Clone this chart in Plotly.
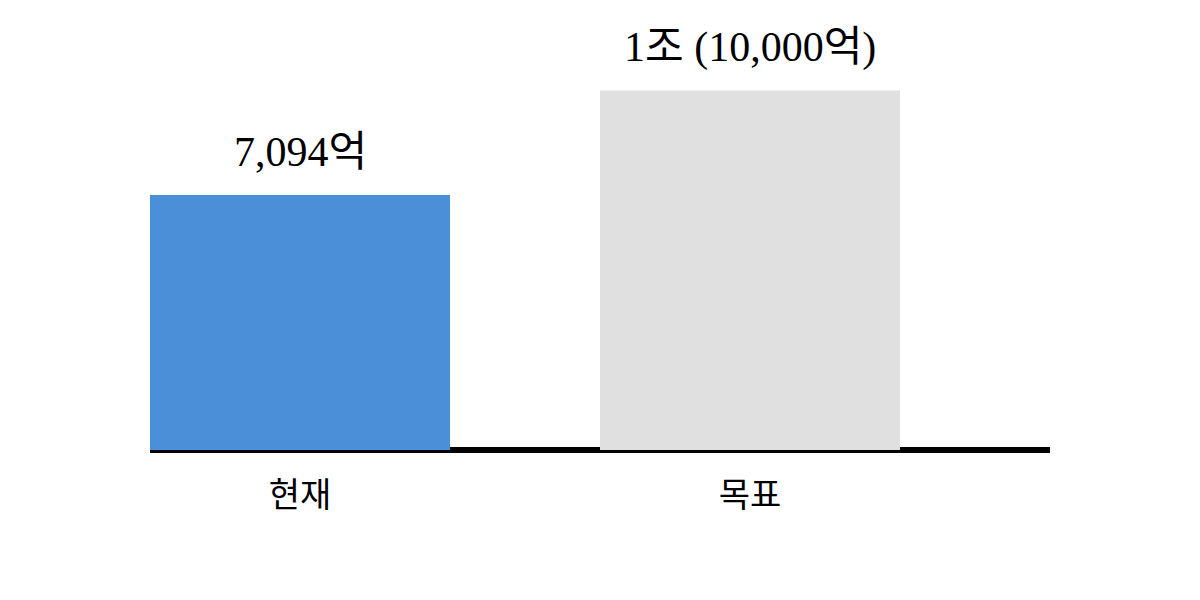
import plotly.graph_objs as go

categories = ['현재', '목표']
values = [7094, 10000]
labels = ['7,094억', '1조 (10,000억)']
colors = ['#4A90D9', '#E0E0E0']

fig = go.Figure()

fig.add_trace(go.Bar(x=[0, 1], y=values, marker=dict(color=colors, line=dict(width=0)),
                     hoverinfo='skip'))

for i, (val, lab) in enumerate(zip(values, labels)):
    fig.add_annotation(x=i, y=val, text=lab, showarrow=False, yanchor='middle', yshift=43,
                       font=dict(family='Liberation Serif, Noto Sans CJK KR', size=42, color='black'))

fig.update_layout(
    width=1200, height=600,
    margin=dict(l=142, r=158, t=42, b=158),
    paper_bgcolor='white', plot_bgcolor='white',
    bargap=1/3,
    showlegend=False,
    xaxis=dict(range=[-1/3, 5/3], showgrid=False, showline=False, zeroline=False, ticks='',
               tickmode='array', tickvals=[0, 1], ticktext=categories, ticklabelstandoff=22,
               tickfont=dict(family='Noto Sans CJK KR', size=34, color='black')),
    yaxis=dict(range=[0, 11127], showgrid=False, showticklabels=False, showline=False,
               zeroline=True, zerolinecolor='black', zerolinewidth=6),
)

fig.write_html("out.html")
